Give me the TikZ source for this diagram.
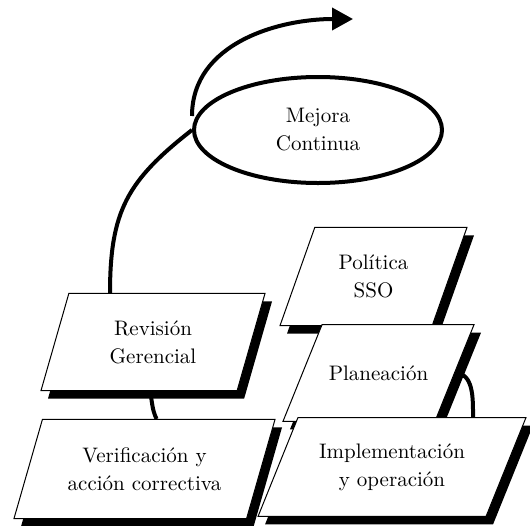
\documentclass[tikz,border=0pt]{standalone}
\usepackage{tikz}
\usetikzlibrary{arrows.meta,shapes.geometric,shadows,backgrounds}
\newcommand{\lblfont}{\fontsize{10.5}{14}\selectfont}

\begin{document}
\begin{tikzpicture}[
  x=0.5pt, y=-0.5pt,
  pbox/.style={trapezium, trapezium stretches body, draw=black, line width=0.5pt, fill=white, align=center, font=\lblfont,
    inner ysep=13.5pt,
    drop shadow={shadow xshift=3.5pt, shadow yshift=-4pt, fill=black, opacity=1}},
  oval/.style={ellipse, draw=black, line width=2pt, fill=white, align=center, font=\lblfont, minimum width=124pt, minimum height=53pt},
  cyc/.style={line width=2pt, color=black},
  arrowto/.style={-{Triangle[length=10.5pt, width=11pt]}}
]
\useasboundingbox (0,0) rectangle (530,525);
\node[oval] (mc) at (318,130) {Mejora\\Continua};
\node[pbox, trapezium left angle=74, trapezium right angle=106, minimum width=112pt] (rev) at (153,342) {Revisión\\Gerencial};
\node[pbox, trapezium left angle=74, trapezium right angle=106, minimum width=130.5pt, inner ysep=14pt] (ver) at (144.5,469) {Verificación y\\acción correctiva};
\node[pbox, trapezium left angle=70.5, trapezium right angle=109.5, minimum width=93.5pt, inner ysep=13.8pt] (pol) at (373.5,276.5) {Política\\SSO};
\node[pbox, trapezium left angle=68, trapezium right angle=112, minimum width=95.5pt, inner ysep=20.5pt] (pla) at (378.5,373) {Planeación};
\node[pbox, trapezium left angle=68, trapezium right angle=112, minimum width=134pt, inner ysep=13pt] (imp) at (392,467) {Implementación\\y operación};
\coordinate (out) at (353,19);
% ciclo detras de las cajas
\begin{scope}[on background layer]
\draw[cyc] ([xshift=-21.5pt]rev.north) to[out=90, in=218, looseness=1.15] (mc.west);
\draw[cyc] ([xshift=-1.5pt]rev.south) to[out=-78, in=115] ([xshift=6pt]ver.north);
\draw[cyc] (pla.east) to[out=0, in=90] ([xshift=40.5pt]imp.north);
\end{scope}
\draw[cyc, arrowto] ([yshift=7pt]mc.west) to[out=90, in=180] (out);
\end{tikzpicture}
\end{document}
